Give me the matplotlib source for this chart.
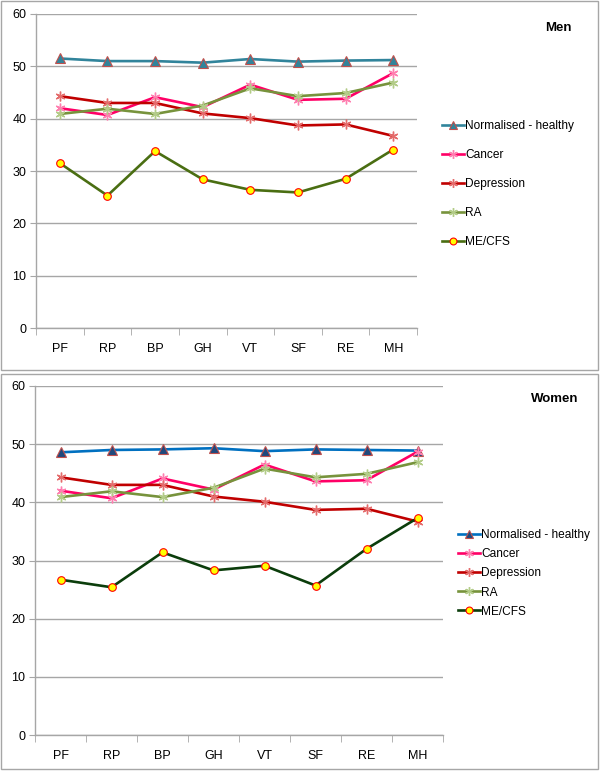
import matplotlib.pyplot as plt
from matplotlib.patches import Rectangle

plt.rcParams['font.family'] = ['Liberation Sans', 'DejaVu Sans']

categories = ["PF", "RP", "BP", "GH", "VT", "SF", "RE", "MH"]
series_names = ["Normalised - healthy", "Cancer", "Depression", "RA", "ME/CFS"]

# the three comparison groups are the same in both panels
cancer = [42.0, 40.7, 44.1, 42.2, 46.5, 43.6, 43.8, 48.7]
depression = [44.3, 43.0, 43.0, 41.0, 40.1, 38.7, 38.9, 36.7]
ra = [40.9, 41.9, 40.9, 42.5, 45.8, 44.3, 44.9, 46.9]

men_healthy = [51.5, 51.0, 51.0, 50.7, 51.4, 50.9, 51.1, 51.2]
men_mecfs = [31.5, 25.3, 33.8, 28.4, 26.4, 25.9, 28.5, 34.1]

women_healthy = [48.6, 49.0, 49.1, 49.3, 48.8, 49.1, 49.0, 48.9]
women_mecfs = [26.7, 25.4, 31.4, 28.3, 29.1, 25.7, 32.0, 37.3]

W, H = 600, 776
fig = plt.figure(figsize=(W / 100, H / 100), dpi=100)
GRID = "#a6a6a6"


def px_axes(x0, y0, x1, y1):
    # pixel box (top-left origin) -> figure axes
    return fig.add_axes([x0 / W, 1 - y1 / H, (x1 - x0) / W, (y1 - y0) / H])


def panel(ax, healthy, mecfs, hcol, hfill, mcol):
    x = range(len(categories))
    ax.plot(x, healthy, color=hcol, lw=1.9, marker="^", ms=6.5,
            mfc=hfill, mec="#c0504d", mew=0.8, label=series_names[0])
    ax.plot(x, cancer, color="#ff0066", lw=1.9, marker=(6, 2, 0), ms=7,
            mec="#ff7fb0", mew=1.0, label=series_names[1])
    ax.plot(x, depression, color="#c00000", lw=1.9, marker=(6, 2, 0), ms=7,
            mec="#e46c6c", mew=1.0, label=series_names[2])
    ax.plot(x, ra, color="#77933c", lw=1.9, marker=(6, 2, 0), ms=7,
            mec="#b3cc88", mew=1.0, label=series_names[3])
    ax.plot(x, mecfs, color=mcol, lw=1.9, marker="o", ms=5.5,
            mfc="#ffff00", mec="#ff0000", mew=0.8, label=series_names[4])

    ax.set_xlim(-0.5, len(categories) - 0.5)
    ax.set_ylim(0, 60)
    ax.set_yticks(range(0, 61, 10))
    ax.set_xticks(list(x))
    ax.set_xticklabels(categories)
    ax.set_xticks([i - 0.5 for i in range(len(categories) + 1)], minor=True)
    ax.tick_params(axis="x", which="major", length=0, pad=11, labelsize=9)
    ax.tick_params(axis="x", which="minor", length=5, color=GRID, direction="out")
    ax.tick_params(axis="y", length=4, color=GRID, labelsize=9, pad=3)
    ax.yaxis.grid(True, color=GRID, lw=1.0)
    ax.set_axisbelow(True)
    for s in ["top", "right"]:
        ax.spines[s].set_visible(False)
    for s in ["left", "bottom"]:
        ax.spines[s].set_color(GRID)
        ax.spines[s].set_linewidth(1.0)


# panel frames
fig.patches.append(Rectangle((1 / W, 1 - 370 / H), 597 / W, 369 / H,
                             transform=fig.transFigure, fill=False,
                             ec="#a6a6a6", lw=1.0))
fig.patches.append(Rectangle((1 / W, 1 - 769 / H), 597 / W, 395 / H,
                             transform=fig.transFigure, fill=False,
                             ec="#a6a6a6", lw=1.0))

ax1 = px_axes(36, 14, 417, 328)
panel(ax1, men_healthy, men_mecfs, "#31849b", "#31849b", "#4a6e12")
ax1.legend(loc="upper left", bbox_to_anchor=(442 / W, 1 - 120 / H),
           bbox_transform=fig.transFigure, frameon=False, fontsize=8.6,
           handlelength=1.8, handletextpad=0.15, labelspacing=1.42,
           borderpad=0, borderaxespad=0, markerscale=0.9)
fig.text(558 / W, 1 - 28 / H, "Men", ha="center", va="center",
         fontsize=9.5, fontweight="bold")

ax2 = px_axes(35, 386, 443, 735)
panel(ax2, women_healthy, women_mecfs, "#0070c0", "#1f497d", "#0b3d0b")
ax2.legend(loc="upper left", bbox_to_anchor=(458 / W, 1 - 529 / H),
           bbox_transform=fig.transFigure, frameon=False, fontsize=8.6,
           handlelength=1.8, handletextpad=0.15, labelspacing=0.6,
           borderpad=0, borderaxespad=0, markerscale=0.9)
fig.text(555 / W, 1 - 399 / H, "Women", ha="center", va="center",
         fontsize=9.5, fontweight="bold")

fig.savefig("out.png", dpi=100)
